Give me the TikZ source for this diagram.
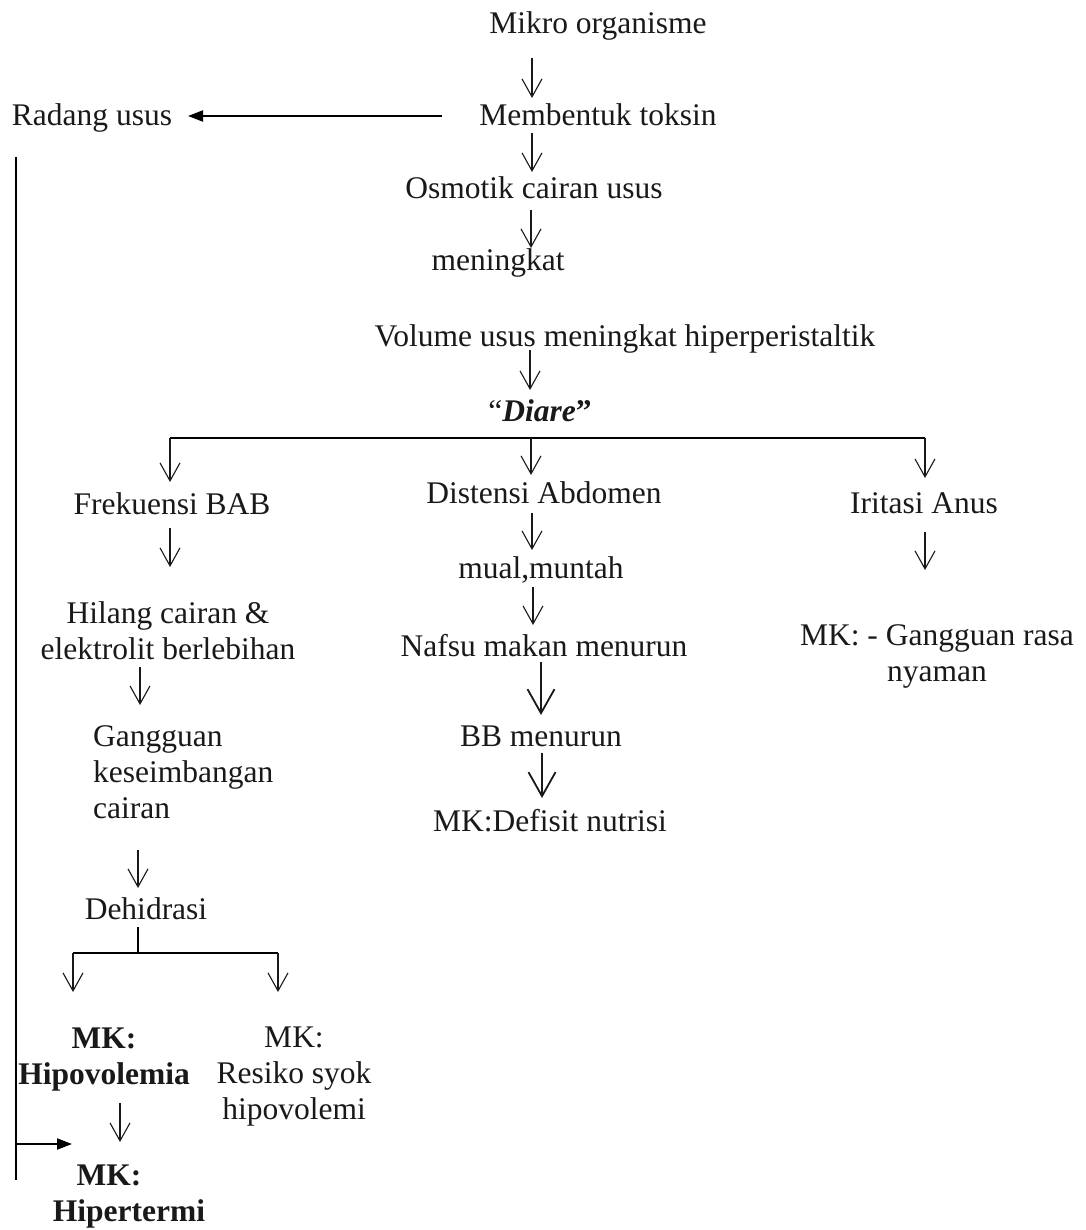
\documentclass[tikz,border=0pt]{standalone}
\usepackage{fontspec}
\setmainfont{Liberation Serif}
\usepackage{tikz}
\usetikzlibrary{arrows.meta,calc}
\definecolor{ink}{rgb}{0.1,0.1,0.1}

\begin{document}
\begin{tikzpicture}[x=1pt,y=-1pt,
    teks/.style={anchor=base, inner sep=0pt, text=ink, font=\fontsize{31.5}{36}\selectfont},
    panah/.style={draw=ink, line width=1.1pt, -{Straight Barb[length=18pt,width=20pt]}},
    panahbesar/.style={draw=ink, line width=1.8pt, -{Straight Barb[length=24pt,width=27pt]}},
    panahhitam/.style={draw=black, line width=2pt, -{Triangle[length=15pt,width=11pt]}},
    garis/.style={draw=black, line width=2pt}]
  \useasboundingbox (0,0) rectangle (1085,1230);
  % top chain
  \node[teks] (mikro) at (598,34) {Mikro organisme};
  \node[teks] (bentuk) at (598,126) {Membentuk toksin};
  \node[teks] (radang) at (92,126) {Radang usus};
  \node[teks] (osmotik) at (534,199) {Osmotik cairan usus};
  \node[teks] (naik) at (498,271) {meningkat};
  \node[teks] (volume) at (625,346) {Volume usus meningkat hiperperistaltik};
  \node[teks] (diare) at (540,421) {“\textbf{\textit{Diare}}\textbf{”}};
  % three branches
  \node[teks] (frek) at (172,514) {Frekuensi BAB};
  \node[teks] (disten) at (544,503) {Distensi Abdomen};
  \node[teks] (iritasi) at (924,513) {Iritasi Anus};
  % left branch (multi-line nodes sit on their last line)
  \node[teks, align=center] (hilang) at (168,659) {Hilang cairan \&\\elektrolit berlebihan};
  \node[teks, anchor=base west, align=left] (gangguan) at (93,818) {Gangguan\\keseimbangan\\cairan};
  \node[teks] (dehidrasi) at (146,919) {Dehidrasi};
  \node[teks, align=center] (hipovol) at (104,1084) {\textbf{MK:}\\\textbf{Hipovolemia}};
  \node[teks, align=center] (resiko) at (294,1119) {MK:\\Resiko syok\\hipovolemi};
  \node[teks, align=center] (hiper) at (129,1221) {\textbf{MK:}\hspace*{40pt}\\\textbf{Hipertermi}};
  % middle branch
  \node[teks] (mual) at (541,578) {mual,muntah};
  \node[teks] (nafsu) at (544,656) {Nafsu makan menurun};
  \node[teks] (bb) at (541,746) {BB menurun};
  \node[teks] (mkdef) at (550,831) {MK:Defisit nutrisi};
  % right branch
  \node[teks, align=center] (mkrasa) at (937,681) {MK: - Gangguan rasa\\nyaman};

  % arrows down the top chain
  \draw[panah] ($(mikro.base)+(-66,24)$) -- ($(bentuk.base)+(-66,-28)$);
  \draw[panah] ($(bentuk.base)+(-66,7)$) -- ($(osmotik.base)+(-2,-27)$);
  \draw[panah] ($(osmotik.base)+(-3,11)$) -- ($(naik.base)+(33,-23)$);
  \draw[panah] ($(volume.base)+(-95,4)$) -- ($(diare.base)+(-10,-31)$);
  \draw[panahhitam] ($(bentuk.base)+(-156,-10)$) -- ($(radang.base)+(96,-10)$);
  % bar under diare
  \coordinate (bar) at ($(diare.base)+(0,17)$);
  \draw[garis] ($(bar -| frek.base)+(-2,0)$) -- ($(bar -| iritasi.base)+(1,0)$);
  \draw[panah] ($(bar -| frek.base)+(-2,0)$) -- ($(frek.base)+(-2,-32)$);
  \draw[panah] ($(bar)+(-9,0)$) -- ($(disten.base)+(-13,-28)$);
  \draw[panah] ($(bar -| iritasi.base)+(1,0)$) -- ($(iritasi.base)+(1,-35)$);
  % left chain
  \draw[panah] ($(frek.base)+(-2,14)$) -- ($(hilang.base)+(2,-92)$);
  \draw[panah] ($(hilang.base)+(-28,8)$) -- ($(gangguan.base west)+(47,-113)$);
  \draw[panah] ($(gangguan.base west)+(45,32)$) -- ($(dehidrasi.base)+(-8,-31)$);
  \draw[garis] ($(dehidrasi.base)+(-8,8)$) -- ++(0,26) coordinate (cab);
  \draw[garis] ($(cab)+(-65,0)$) -- ($(cab)+(140,0)$);
  \draw[panah] ($(cab)+(-65,0)$) -- ($(hipovol.base)+(-31,-92)$);
  \draw[panah] ($(cab)+(140,0)$) -- ($(resiko.base)+(-16,-127)$);
  \draw[panah] ($(hipovol.base)+(16,19)$) -- ($(hiper.base)+(-9,-79)$);
  % long line from radang usus
  \draw[garis, line width=1.8pt] ($(radang.base)+(-76,31)$) -- ($(radang.base)+(-76,1054)$);
  \draw[panahhitam] ($(hiper.base)+(-113,-77)$) -- ($(hiper.base)+(-57,-77)$);
  % middle chain
  \draw[panah] ($(disten.base)+(-12,10)$) -- ($(mual.base)+(-9,-28)$);
  \draw[panah] ($(mual.base)+(-8,9)$) -- ($(nafsu.base)+(-11,-31)$);
  \draw[panahbesar] ($(nafsu.base)+(-3,6)$) -- ($(bb.base)+(0,-31)$);
  \draw[panahbesar] ($(bb.base)+(1,7)$) -- ($(mkdef.base)+(-8,-33)$);
  % right chain
  \draw[panah] ($(iritasi.base)+(1,19)$) -- ($(mkrasa.base)+(-12,-111)$);
\end{tikzpicture}
\end{document}
